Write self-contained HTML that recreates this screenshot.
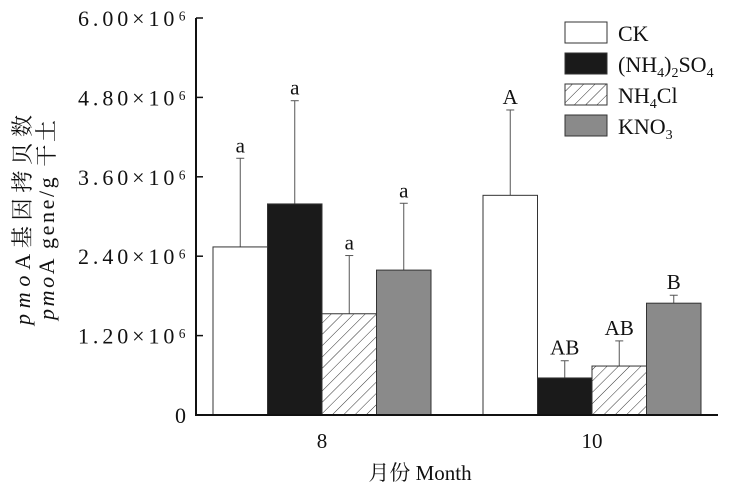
<!DOCTYPE html>
<html><head><meta charset="utf-8"><style>
body{margin:0;background:#fff;}
svg text{font-family:"Liberation Serif","Noto Serif CJK SC",serif;fill:#111;}
</style></head><body>
<svg width="732" height="493" viewBox="0 0 732 493">
<defs><pattern id="hatch" patternUnits="userSpaceOnUse" width="8" height="8" patternTransform="rotate(45)"><rect width="8" height="8" fill="#fff"/><line x1="0" y1="0" x2="0" y2="8" stroke="#333" stroke-width="1"/></pattern></defs>
<g id="plot"></g>
<text x="420" y="480" font-size="21" text-anchor="middle">月份 Month</text>
<g transform="translate(30,220) rotate(-90)">
<text x="0" y="0" font-size="22" text-anchor="middle" textLength="210" lengthAdjust="spacing"><tspan font-style="italic">pmo</tspan>A基因拷贝数</text>
<text x="0" y="24" font-size="22" text-anchor="middle" textLength="200" lengthAdjust="spacing"><tspan font-style="italic">pmo</tspan>A gene/g 干土</text>
</g>
<g>
<rect x="565" y="22" width="42" height="21" fill="#fff" stroke="#333"/>
<text x="618" y="41" font-size="22">CK</text>
<rect x="565" y="53" width="42" height="21" fill="#1a1a1a" stroke="#333"/>
<text x="618" y="72" font-size="22">(NH<tspan font-size="14" dy="5">4</tspan><tspan dy="-5">)</tspan><tspan font-size="14" dy="5">2</tspan><tspan dy="-5">SO</tspan><tspan font-size="14" dy="5">4</tspan></text>
<rect x="565" y="84" width="42" height="21" fill="url(#hatch)" stroke="#333"/>
<text x="618" y="103" font-size="22">NH<tspan font-size="14" dy="5">4</tspan><tspan dy="-5">Cl</tspan></text>
<rect x="565" y="115" width="42" height="21" fill="#8a8a8a" stroke="#333"/>
<text x="618" y="134" font-size="22">KNO<tspan font-size="14" dy="5">3</tspan></text>
</g>
</svg>
<script>
const months=["8","10"];
const ckVals=[2.54,3.32];
const nh4so4Vals=[3.19,0.56];
const nh4clVals=[1.53,0.74];
const kno3Vals=[2.19,1.69];
const ckErr=[3.88,4.61];
const nh4so4Err=[4.75,0.82];
const nh4clErr=[2.41,1.12];
const kno3Err=[3.20,1.81];
const ckLetters=["a","A"];
const nh4so4Letters=["a","AB"];
const nh4clLetters=["a","AB"];
const kno3Letters=["a","B"];
const yTicks=[0,1.2,2.4,3.6,4.8,6.0];
const yTickLabels=["0","1.20×10⁶","2.40×10⁶","3.60×10⁶","4.80×10⁶","6.00×10⁶"];

const NS="http://www.w3.org/2000/svg";
const g=document.getElementById('plot');
const X0=196,X1=718,Y0=415,Y1=18,YMAX=6.0;
const y=v=>Y0-(v/YMAX)*(Y0-Y1);
const groupStart=[213,483],barW=54.5;
function mk(t,a){const e=document.createElementNS(NS,t);for(const k in a)e.setAttribute(k,a[k]);g.appendChild(e);return e;}
const series=[
 {name:"ck",vals:ckVals,err:ckErr,let:ckLetters,fill:"#fff"},
 {name:"nh4so4",vals:nh4so4Vals,err:nh4so4Err,let:nh4so4Letters,fill:"#1a1a1a"},
 {name:"nh4cl",vals:nh4clVals,err:nh4clErr,let:nh4clLetters,fill:"url(#hatch)"},
 {name:"kno3",vals:kno3Vals,err:kno3Err,let:kno3Letters,fill:"#8a8a8a"}];
series.forEach((s,si)=>{
 months.forEach((m,mi)=>{
  const x=groupStart[mi]+si*barW, cx=x+barW/2;
  const eb=mk('line',{x1:cx,x2:cx,y1:y(s.err[mi]),y2:y(s.vals[mi]),stroke:"#555","stroke-width":1});
  
  
  const cap=mk('line',{x1:cx-4,x2:cx+4,y1:y(s.err[mi]),y2:y(s.err[mi]),stroke:"#555","stroke-width":1});
  
  
  const r=mk('rect',{x:x,y:y(s.vals[mi]),width:barW,height:Y0-y(s.vals[mi]),fill:s.fill,stroke:"#333","stroke-width":1});
  
  
  const t=mk('text',{x:cx,y:y(s.err[mi])-6,"font-size":21,"text-anchor":"middle"});
  t.textContent=s.let[mi];
  
  
 });
});
const ax=mk('path',{d:`M${X0},${Y1} V${Y0} H${X1}`,fill:"none",stroke:"#111","stroke-width":2});


yTicks.forEach((v,i)=>{
 const tk=mk('line',{x1:X0,x2:X0+7,y1:y(v),y2:y(v),stroke:"#111","stroke-width":1.5});
 
 
 const attrs={x:X0-10,y:y(v)+8,"font-size":22,"text-anchor":"end"};
 if(yTickLabels[i].length>2){attrs.textLength=108;attrs.lengthAdjust="spacing";}
 const t=mk('text',attrs);
 t.textContent=yTickLabels[i];
 
 
});
months.forEach((m,mi)=>{
 const t=mk('text',{x:groupStart[mi]+2*barW,y:448,"font-size":21,"text-anchor":"middle"});
 t.textContent=m;
 
 
});
</script>
</body></html>
